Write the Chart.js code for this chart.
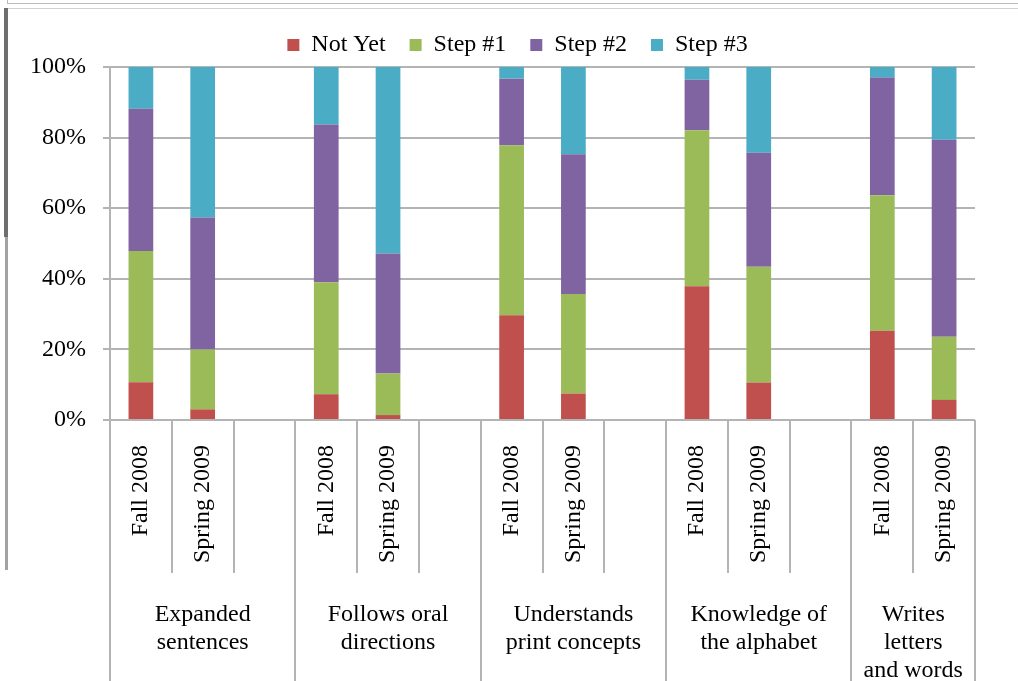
<!DOCTYPE html>
<html>
<head>
<meta charset="utf-8">
<title>Skill progress, Fall 2008 and Spring 2009</title>
<script src="https://cdn.jsdelivr.net/npm/chart.js@4.4.1/dist/chart.umd.min.js"></script>
<style>
  html, body { margin: 0; padding: 0; background: #fff; overflow: hidden; }
  #wrap { position: relative; width: 1018px; height: 681px; overflow: hidden; background: #fff; }
  #wrap canvas { position: absolute; left: 0; top: 0; }
  .edge { position: absolute; }
</style>
</head>
<body>
<div id="wrap">
  <canvas id="chart" width="1035" height="681" style="width:1035px;height:681px"></canvas>
  <!-- window frame edges -->
  <div class="edge" style="left:7px;top:0;width:1px;height:3px;background:#b8b8b8"></div>
  <div class="edge" style="left:7px;top:3px;width:1011px;height:1px;background:#bdbdbd"></div>
  <div class="edge" style="left:4px;top:8px;width:1014px;height:1px;background:#d0d0d0"></div>
  <div class="edge" style="left:4px;top:8px;width:4px;height:229px;background:#6f6f6f"></div>
  <div class="edge" style="left:5px;top:237px;width:3px;height:333px;background:#a2a2a2"></div>
</div>
<script>
// Column labels along the x axis (a blank column separates the skill groups)
const categories = [
  'Fall 2008', 'Spring 2009', '',
  'Fall 2008', 'Spring 2009', '',
  'Fall 2008', 'Spring 2009', '',
  'Fall 2008', 'Spring 2009', '',
  'Fall 2008', 'Spring 2009'
];

// Skill groups shown under the columns, and how many columns each spans
const groupNames = [
  ['Expanded', 'sentences'],
  ['Follows oral', 'directions'],
  ['Understands', 'print concepts'],
  ['Knowledge of', 'the alphabet'],
  ['Writes', 'letters', 'and words']
];
const groupSizes = [3, 3, 3, 3, 2];

// Share of children at each level (percent)
const notYet = [10.7, 3.0, null, 7.3, 1.4, null, 29.7, 7.5, null, 37.9, 10.6, null, 25.3, 5.7];
const step1  = [37.2, 17.0, null, 31.7, 11.8, null, 48.1, 28.2, null, 44.2, 32.8, null, 38.4, 17.9];
const step2  = [40.3, 37.4, null, 44.7, 34.0, null, 18.9, 39.6, null, 14.3, 32.3, null, 33.3, 55.8];
const step3  = [11.8, 42.6, null, 16.3, 52.8, null, 3.3, 24.7, null, 3.6, 24.3, null, 3.0, 20.6];

const yTicks = [0, 20, 40, 60, 80, 100];

const GRID = '#b4b4b4';
const SERIF = "'Liberation Serif', 'Times New Roman', serif";
Chart.defaults.color = '#000';
Chart.defaults.font = { family: SERIF, size: 24 };

// Draws the column separators below the axis and the skill-group captions
const groupAxis = {
  id: 'groupAxis',
  afterDraw(chart) {
    const { ctx, chartArea } = chart;
    const x = chart.scales.x;
    const half = (x.getPixelForValue(1) - x.getPixelForValue(0)) / 2;
    const edge = i => x.getPixelForValue(i) - half;
    const top = chartArea.bottom;

    const groupEdges = [0];
    groupSizes.forEach(n => groupEdges.push(groupEdges[groupEdges.length - 1] + n));

    ctx.save();
    ctx.strokeStyle = GRID;
    ctx.lineWidth = 2;
    for (let i = 0; i <= categories.length; i++) {
      const px = Math.round(edge(i));
      const isGroupEdge = groupEdges.includes(i);
      ctx.beginPath();
      ctx.moveTo(px, top);
      ctx.lineTo(px, isGroupEdge ? chart.height : top + 153);
      ctx.stroke();
    }

    ctx.fillStyle = '#000';
    ctx.font = '24px ' + SERIF;
    ctx.textAlign = 'center';
    ctx.textBaseline = 'alphabetic';
    groupNames.forEach((lines, g) => {
      const cx = (edge(groupEdges[g]) + edge(groupEdges[g + 1])) / 2;
      lines.forEach((line, k) => {
        ctx.fillText(line, cx, top + 201 + k * 28);
      });
    });
    ctx.restore();
  }
};

const bar = (label, data, color) => ({
  label,
  data,
  backgroundColor: color,
  borderWidth: 0,
  barPercentage: 0.4,
  categoryPercentage: 1.0
});

new Chart(document.getElementById('chart'), {
  type: 'bar',
  data: {
    labels: categories,
    datasets: [
      bar('Not Yet', notYet, '#C0504D'),
      bar('Step #1', step1, '#9BBB59'),
      bar('Step #2', step2, '#8064A2'),
      bar('Step #3', step3, '#4BACC6')
    ]
  },
  options: {
    responsive: false,
    animation: false,
    devicePixelRatio: 1,
    layout: { padding: { top: 9, left: 0, right: 0, bottom: 0 } },
    plugins: {
      legend: {
        position: 'top',
        labels: {
          boxWidth: 12,
          boxHeight: 12,
          padding: 24,
          color: '#000',
          font: { family: SERIF, size: 24 }
        }
      },
      tooltip: { enabled: false }
    },
    scales: {
      x: {
        stacked: true,
        grid: { display: false, drawTicks: false },
        border: { display: false },
        ticks: {
          autoSkip: false,
          minRotation: 90,
          maxRotation: 90,
          padding: 25,
          color: '#000',
          font: { family: SERIF, size: 24 }
        },
        afterFit(scale) { scale.height = 261; }
      },
      y: {
        stacked: true,
        min: yTicks[0],
        max: yTicks[yTicks.length - 1],
        afterBuildTicks(scale) { scale.ticks = yTicks.map(v => ({ value: v })); },
        ticks: {
          padding: 17,
          color: '#000',
          font: { family: SERIF, size: 24 },
          callback: v => v + '%'
        },
        grid: { color: GRID, lineWidth: 2, tickLength: 7 },
        border: { color: GRID, width: 2 },
        afterFit(scale) { scale.width = 110; }
      },
      // empty margin on the right of the plot, beyond the visible edge
      margin: {
        position: 'right',
        display: true,
        grid: { display: false, drawTicks: false },
        border: { display: false },
        ticks: { display: false },
        afterFit(scale) { scale.width = 60; }
      }
    }
  },
  plugins: [groupAxis]
});
</script>
</body>
</html>
